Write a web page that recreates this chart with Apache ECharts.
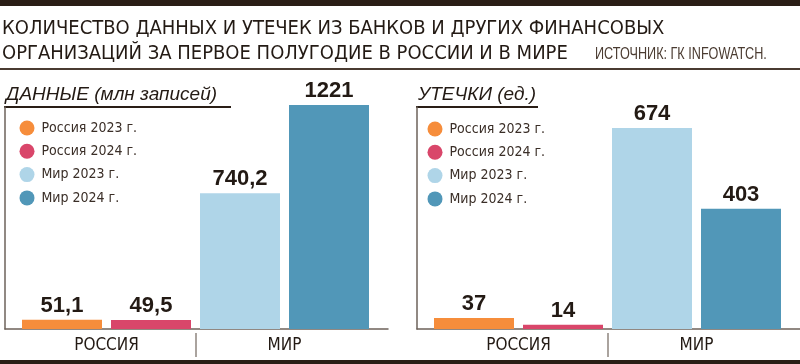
<!DOCTYPE html>
<html>
<head>
<meta charset="utf-8">
<script src="https://cdn.jsdelivr.net/npm/echarts@6/dist/echarts.min.js"></script>
<style>
html,body{margin:0;padding:0;background:#fff;}
#c{width:800px;height:364px;}
</style>
</head>
<body>
<div id="c"></div>
<script>
// ---- data ----
const seriesNames = ['Россия 2023 г.', 'Россия 2024 г.', 'Мир 2023 г.', 'Мир 2024 г.'];
const groupLabels = ['РОССИЯ', 'МИР'];
const recordsValues = [51.1, 49.5, 740.2, 1221];   // млн записей
const leaksValues = [37, 14, 674, 403];             // ед.
const barColors = ['#f68d3b', '#d9466a', '#afd5e8', '#5197b8'];
const titleLine1 = 'КОЛИЧЕСТВО ДАННЫХ И УТЕЧЕК ИЗ БАНКОВ И ДРУГИХ ФИНАНСОВЫХ';
const titleLine2 = 'ОРГАНИЗАЦИЙ ЗА ПЕРВОЕ ПОЛУГОДИЕ В РОССИИ И В МИРЕ';
const sourceText = 'ИСТОЧНИК: ГК INFOWATCH.';
const leftHeader = 'ДАННЫЕ (млн записей)';
const rightHeader = 'УТЕЧКИ (ед.)';

const NARROW = "'Liberation Sans Narrow', 'DejaVu Sans Condensed', sans-serif";
const SANS = "'Liberation Sans', Arial, sans-serif";
const DARK = '#231a14';
const AXIS = '#6d625a';

const chart = echarts.init(document.getElementById('c'), null, {renderer: 'canvas'});

function fmt(v) { return String(v).replace('.', ','); }

function buildSeries(values, xIdx, yIdx) {
  return seriesNames.map((name, i) => ({
    name: name,
    type: 'bar',
    xAxisIndex: xIdx,
    yAxisIndex: yIdx,
    barWidth: 80,
    barGap: '-100%',
    itemStyle: {color: barColors[i]},
    label: {
      show: true, position: 'top', distance: 3,
      fontFamily: SANS, fontWeight: 'bold', fontSize: 22, color: DARK,
      formatter: p => fmt(p.value)
    },
    data: values.map((v, j) => (j === i ? v : '-'))
  }));
}

function frameAxes(gridIndex) {
  return {
    x: {type: 'value', gridIndex: gridIndex, axisLine: {show: true, onZero: false, lineStyle: {color: AXIS, width: 1.5}},
        axisTick: {show: false}, axisLabel: {show: false}, splitLine: {show: false}},
    y: {type: 'value', gridIndex: gridIndex, axisLine: {show: true, onZero: false, lineStyle: {color: AXIS, width: 1.5}},
        axisTick: {show: false}, axisLabel: {show: false}, splitLine: {show: false}}
  };
}
const f0 = frameAxes(0), f2 = frameAxes(2);

function groupAxis(gridIndex) {
  return {
    type: 'category', gridIndex: gridIndex, data: groupLabels, position: 'top',
    axisLine: {show: false}, axisTick: {show: false},
    axisLabel: {inside: true, margin: 4, fontFamily: NARROW, fontSize: 17, color: DARK},
    splitLine: {show: true, showMinLine: false, showMaxLine: false, lineStyle: {color: '#8e857e', width: 1.5}}
  };
}

const option = {
  animation: false,
  backgroundColor: '#fff',
  title: [
    {
      left: 2, top: 16, padding: 0,
      text: titleLine1 + '\n' + titleLine2,
      textStyle: {fontFamily: NARROW, fontSize: 20, fontWeight: 'normal', color: DARK, lineHeight: 25}
    },
    {
      left: 6, top: 85, padding: 0, text: leftHeader,
      textStyle: {fontFamily: SANS, fontStyle: 'italic', fontWeight: 'normal', fontSize: 19, color: DARK}
    },
    {
      left: 418, top: 85, padding: 0, text: rightHeader,
      textStyle: {fontFamily: SANS, fontStyle: 'italic', fontWeight: 'normal', fontSize: 19, color: DARK}
    }
  ],
  legend: [
    {left: 19.5, top: 120.5, orient: 'vertical', padding: 0, itemWidth: 15, itemHeight: 15, itemGap: 8.3, icon: 'circle',
     data: seriesNames, selectedMode: false,
     textStyle: {fontFamily: NARROW, fontSize: 14, color: '#3a2e27', padding: [0, 0, 0, 2]}},
    {left: 427.5, top: 121.5, orient: 'vertical', padding: 0, itemWidth: 15, itemHeight: 15, itemGap: 8.3, icon: 'circle',
     data: seriesNames, selectedMode: false,
     textStyle: {fontFamily: NARROW, fontSize: 14, color: '#3a2e27', padding: [0, 0, 0, 2]}}
  ],
  grid: [
    {left: 5, width: 383, top: 107, height: 222},       // left frame
    {left: 17.5, width: 356, top: 105, height: 224},    // left bars
    {left: 417, width: 383, top: 107, height: 222},     // right frame
    {left: 429.5, width: 356, top: 128, height: 201},   // right bars
    {left: 17.5, width: 356, top: 333, height: 24},     // left group labels
    {left: 429.5, width: 356, top: 333, height: 24}     // right group labels
  ],
  xAxis: [
    f0.x,
    {type: 'category', gridIndex: 1, data: seriesNames, show: false},
    f2.x,
    {type: 'category', gridIndex: 3, data: seriesNames, show: false},
    groupAxis(4),
    groupAxis(5)
  ],
  yAxis: [
    f0.y,
    {type: 'value', gridIndex: 1, min: 0, max: Math.max(...recordsValues), show: false},
    f2.y,
    {type: 'value', gridIndex: 3, min: 0, max: Math.max(...leaksValues), show: false},
    {type: 'value', gridIndex: 4, show: false},
    {type: 'value', gridIndex: 5, show: false}
  ],
  series: buildSeries(recordsValues, 1, 1).concat(buildSeries(leaksValues, 3, 3)),
  graphic: [
    {type: 'rect', shape: {x: 0, y: 0, width: 800, height: 6}, style: {fill: '#2a1e16'}, silent: true},
    {type: 'rect', shape: {x: 0, y: 68, width: 800, height: 2}, style: {fill: '#4a3b31'}, silent: true},
    {type: 'rect', shape: {x: 0, y: 360, width: 800, height: 4}, style: {fill: '#2a1e16'}, silent: true},
    {type: 'rect', shape: {x: 4, y: 106, width: 227, height: 2}, style: {fill: '#2a1e16'}, silent: true},
    {type: 'rect', shape: {x: 416, y: 106, width: 122, height: 2}, style: {fill: '#2a1e16'}, silent: true},
    {type: 'text', x: 595, y: 47, scaleX: 0.79, scaleY: 1, silent: true,
     style: {text: sourceText, x: 0, y: 0, align: 'left', verticalAlign: 'top',
             font: "16px 'Liberation Sans', Arial, sans-serif", fill: '#4a3b31'}}
  ]
};
chart.setOption(option);
</script>
</body>
</html>
